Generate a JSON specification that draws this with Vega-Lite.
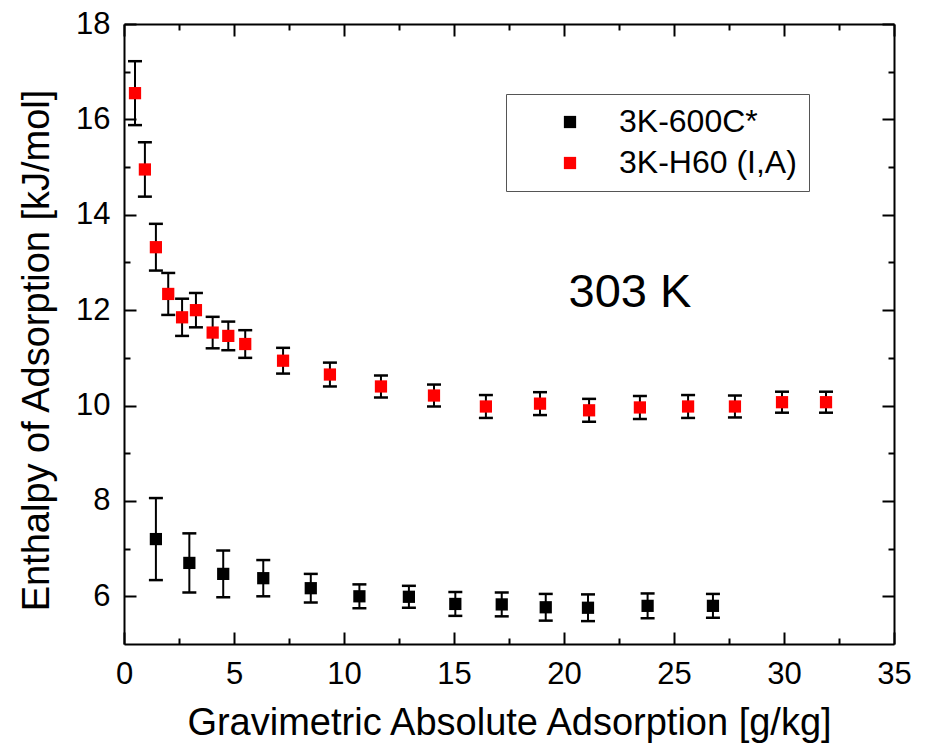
{
  "$schema": "https://vega.github.io/schema/vega-lite/v6.json",
  "width": 770,
  "height": 620,
  "autosize": {"type": "none"},
  "padding": {"left": 124, "top": 24, "right": 34, "bottom": 112},
  "background": "white",
  "config": {
    "view": {"stroke": null},
    "font": "Liberation Sans",
    "axis": {
      "domainColor": "black",
      "domainWidth": 2,
      "tickColor": "black",
      "tickWidth": 2,
      "labelColor": "black",
      "labelFont": "Liberation Sans",
      "titleFont": "Liberation Sans",
      "titleFontWeight": "normal",
      "titleColor": "black",
      "grid": false
    }
  },
  "datasets": {
    "pts": [
      {"series": "3K-600C*", "x": 1.45, "y": 7.20, "lo": 6.34, "hi": 8.06},
      {"series": "3K-600C*", "x": 2.97, "y": 6.70, "lo": 6.08, "hi": 7.32},
      {"series": "3K-600C*", "x": 4.51, "y": 6.47, "lo": 5.98, "hi": 6.96},
      {"series": "3K-600C*", "x": 6.33, "y": 6.38, "lo": 6.00, "hi": 6.76},
      {"series": "3K-600C*", "x": 8.49, "y": 6.17, "lo": 5.87, "hi": 6.47},
      {"series": "3K-600C*", "x": 10.70, "y": 6.00, "lo": 5.75, "hi": 6.25},
      {"series": "3K-600C*", "x": 12.95, "y": 5.99, "lo": 5.76, "hi": 6.22},
      {"series": "3K-600C*", "x": 15.06, "y": 5.84, "lo": 5.59, "hi": 6.09},
      {"series": "3K-600C*", "x": 17.17, "y": 5.83, "lo": 5.58, "hi": 6.08},
      {"series": "3K-600C*", "x": 19.17, "y": 5.77, "lo": 5.49, "hi": 6.05},
      {"series": "3K-600C*", "x": 21.09, "y": 5.76, "lo": 5.48, "hi": 6.04},
      {"series": "3K-600C*", "x": 23.80, "y": 5.80, "lo": 5.54, "hi": 6.06},
      {"series": "3K-600C*", "x": 26.77, "y": 5.80, "lo": 5.55, "hi": 6.05},
      {"series": "3K-H60 (I,A)", "x": 0.50, "y": 16.55, "lo": 15.88, "hi": 17.22},
      {"series": "3K-H60 (I,A)", "x": 0.95, "y": 14.95, "lo": 14.38, "hi": 15.52},
      {"series": "3K-H60 (I,A)", "x": 1.45, "y": 13.32, "lo": 12.83, "hi": 13.81},
      {"series": "3K-H60 (I,A)", "x": 2.01, "y": 12.34, "lo": 11.90, "hi": 12.78},
      {"series": "3K-H60 (I,A)", "x": 2.64, "y": 11.85, "lo": 11.46, "hi": 12.24},
      {"series": "3K-H60 (I,A)", "x": 3.27, "y": 12.00, "lo": 11.64, "hi": 12.36},
      {"series": "3K-H60 (I,A)", "x": 4.03, "y": 11.53, "lo": 11.20, "hi": 11.86},
      {"series": "3K-H60 (I,A)", "x": 4.74, "y": 11.46, "lo": 11.16, "hi": 11.76},
      {"series": "3K-H60 (I,A)", "x": 5.51, "y": 11.29, "lo": 11.00, "hi": 11.58},
      {"series": "3K-H60 (I,A)", "x": 7.23, "y": 10.94, "lo": 10.67, "hi": 11.21},
      {"series": "3K-H60 (I,A)", "x": 9.36, "y": 10.65, "lo": 10.40, "hi": 10.90},
      {"series": "3K-H60 (I,A)", "x": 11.68, "y": 10.40, "lo": 10.17, "hi": 10.63},
      {"series": "3K-H60 (I,A)", "x": 14.09, "y": 10.21, "lo": 9.98, "hi": 10.44},
      {"series": "3K-H60 (I,A)", "x": 16.45, "y": 9.98, "lo": 9.74, "hi": 10.22},
      {"series": "3K-H60 (I,A)", "x": 18.91, "y": 10.04, "lo": 9.80, "hi": 10.28},
      {"series": "3K-H60 (I,A)", "x": 21.14, "y": 9.90, "lo": 9.66, "hi": 10.14},
      {"series": "3K-H60 (I,A)", "x": 23.45, "y": 9.96, "lo": 9.72, "hi": 10.20},
      {"series": "3K-H60 (I,A)", "x": 25.64, "y": 9.98, "lo": 9.74, "hi": 10.22},
      {"series": "3K-H60 (I,A)", "x": 27.77, "y": 9.98, "lo": 9.75, "hi": 10.21},
      {"series": "3K-H60 (I,A)", "x": 29.91, "y": 10.07, "lo": 9.85, "hi": 10.29},
      {"series": "3K-H60 (I,A)", "x": 31.91, "y": 10.07, "lo": 9.85, "hi": 10.29}
    ],
    "notes": [
      {"x": 23.0, "y": 12.36, "label": "303 K"}
    ]
  },
  "resolve": {"axis": {"x": "independent", "y": "independent"}},
  "layer": [
    {
      "data": {"name": "pts"},
      "mark": {"type": "rule", "color": "black", "strokeWidth": 2},
      "encoding": {
        "x": {
          "field": "x", "type": "quantitative",
          "scale": {"domain": [0, 35], "nice": false, "zero": false},
          "axis": {
            "orient": "bottom", "values": [0, 5, 10, 15, 20, 25, 30, 35],
            "title": "Gravimetric Absolute Adsorption [g/kg]",
            "titleFontSize": 38, "titlePadding": 15,
            "labelFontSize": 31, "labelPadding": 27, "tickSize": -12,
            "labelFlush": false, "labelOverlap": false
          }
        },
        "y": {
          "field": "lo", "type": "quantitative",
          "scale": {"domain": [5, 18], "nice": false, "zero": false},
          "axis": {
            "orient": "left", "values": [6, 8, 10, 12, 14, 16, 18],
            "title": "Enthalpy of Adsorption [kJ/mol]",
            "titleFontSize": 38, "titlePadding": 19, "titleY": 326,
            "labelFontSize": 31, "labelPadding": 26, "tickSize": -12,
            "labelFlush": false, "labelOverlap": false
          }
        },
        "y2": {"field": "hi"}
      }
    },
    {
      "data": {"name": "pts"},
      "mark": {"type": "tick", "orient": "horizontal", "color": "black", "size": 14, "thickness": 2.5, "opacity": 1},
      "encoding": {
        "x": {
          "field": "x", "type": "quantitative",
          "axis": {"orient": "top", "values": [0, 5, 10, 15, 20, 25, 30, 35], "labels": false, "title": null, "tickSize": -12}
        },
        "y": {
          "field": "hi", "type": "quantitative",
          "axis": {"orient": "right", "values": [6, 8, 10, 12, 14, 16, 18], "labels": false, "title": null, "tickSize": -12}
        }
      }
    },
    {
      "data": {"name": "pts"},
      "mark": {"type": "tick", "orient": "horizontal", "color": "black", "size": 14, "thickness": 2.5, "opacity": 1},
      "encoding": {
        "x": {
          "field": "x", "type": "quantitative",
          "axis": {"orient": "bottom", "values": [2.5, 7.5, 12.5, 17.5, 22.5, 27.5, 32.5], "labels": false, "title": null, "tickSize": -6, "domain": false}
        },
        "y": {
          "field": "lo", "type": "quantitative",
          "axis": {"orient": "left", "values": [7, 9, 11, 13, 15, 17], "labels": false, "title": null, "tickSize": -6, "domain": false}
        }
      }
    },
    {
      "data": {"name": "pts"},
      "mark": {"type": "point", "shape": "square", "filled": true, "size": 150, "opacity": 1},
      "encoding": {
        "x": {
          "field": "x", "type": "quantitative",
          "axis": {"orient": "top", "values": [2.5, 7.5, 12.5, 17.5, 22.5, 27.5, 32.5], "labels": false, "title": null, "tickSize": -6, "domain": false}
        },
        "y": {
          "field": "y", "type": "quantitative",
          "axis": {"orient": "right", "values": [7, 9, 11, 13, 15, 17], "labels": false, "title": null, "tickSize": -6, "domain": false}
        },
        "color": {
          "field": "series", "type": "nominal",
          "scale": {"domain": ["3K-600C*", "3K-H60 (I,A)"], "range": ["#000000", "#ff0000"]},
          "legend": {
            "orient": "none", "legendX": 382, "legendY": 70, "title": null,
            "strokeColor": "#555555", "fillColor": "white", "padding": 12,
            "symbolOffset": 36, "symbolType": "square", "symbolSize": 150,
            "symbolStrokeWidth": 0, "labelFontSize": 32, "labelFont": "Liberation Sans",
            "labelColor": "black", "labelOffset": 33, "labelLimit": 0, "rowPadding": 9
          }
        }
      }
    },
    {
      "data": {"name": "notes"},
      "mark": {"type": "text", "fontSize": 47, "font": "Liberation Sans", "color": "black", "align": "center", "baseline": "middle"},
      "encoding": {
        "x": {"field": "x", "type": "quantitative", "axis": null},
        "y": {"field": "y", "type": "quantitative", "axis": null},
        "text": {"field": "label"}
      }
    }
  ]
}
